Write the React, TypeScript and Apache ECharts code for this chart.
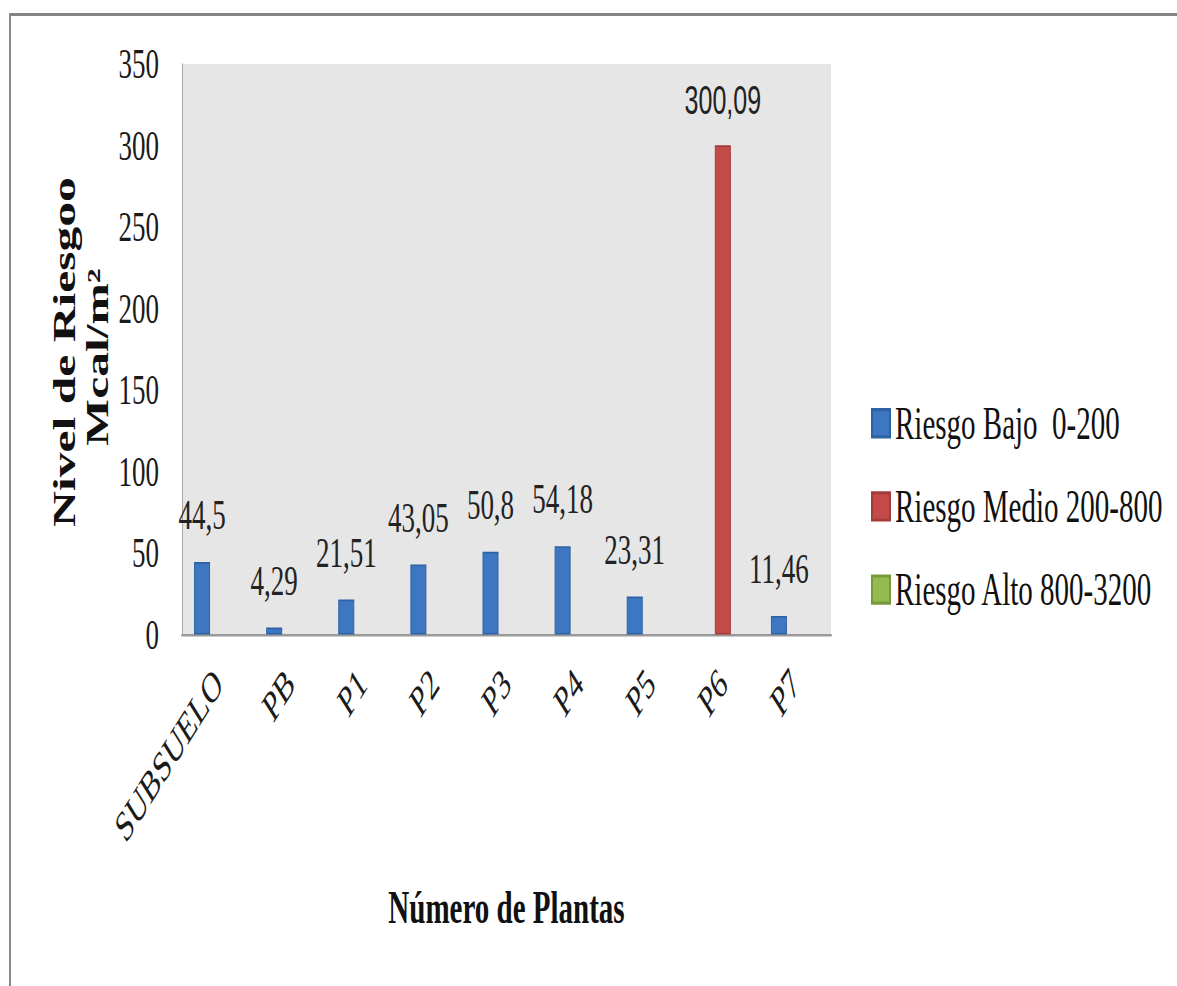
import React, { useEffect, useRef } from "react";
import * as echarts from "echarts";

// Floors of the building and fire-load risk per floor (Mcal/m²)
const categories = ["SUBSUELO", "PB", "P1", "P2", "P3", "P4", "P5", "P6", "P7"];
const riesgoBajo = [44.5, 4.29, 21.51, 43.05, 50.8, 54.18, 23.31, null, 11.46];
const riesgoMedio = [null, null, null, null, null, null, null, 300.09, null];
const riesgoAlto = [null, null, null, null, null, null, null, null, null];
const seriesNames = ["Riesgo Bajo  0-200", "Riesgo Medio 200-800", "Riesgo Alto 800-3200"];
const yTitleLines = ["Nivel de Riesgoo", "Mcal/m²"];
const yMin = 0;
const yMax = 350;
const yStep = 50;

// The chart is laid out in a short canvas and stretched vertically
const PAGE_W = 1177;
const PAGE_H = 986;
const STRETCH = 1.6;
const INNER_H = PAGE_H / STRETCH;

const SERIF = "'Liberation Serif', 'Times New Roman', serif";
const SANS = "'Liberation Sans', Arial, sans-serif";

const fmt = (v: any) => String(v).replace(".", ",");

export default function App() {
  const ref = useRef<HTMLDivElement>(null);

  useEffect(() => {
    if (!ref.current) return;
    const chart = echarts.init(ref.current, null, { renderer: "svg" });
    const gridTop = 64 / STRETCH;
    const gridBottom = INNER_H - 635 / STRETCH;

    const barLabel = (family: string, size: number) => ({
      show: true,
      position: "top",
      distance: 16,
      fontFamily: family,
      fontSize: size,
      color: "#222",
      formatter: (p: any) => fmt(p.value),
    });

    // Two-line vertical title of the value axis
    const yTitle = (text: string, x: number, yScreen: number) => ({
      type: "text",
      x,
      y: yScreen / STRETCH,
      rotation: Math.PI / 2,
      silent: true,
      style: {
        text,
        fontFamily: SERIF,
        fontSize: 31,
        fontWeight: "bold",
        fill: "#111",
        align: "center",
        verticalAlign: "middle",
      },
    });

    chart.setOption({
      animation: false,
      backgroundColor: "transparent",
      grid: {
        left: 182,
        right: PAGE_W - 831,
        top: gridTop,
        bottom: gridBottom,
        show: true,
        backgroundColor: "#e6e6e6",
        borderWidth: 0,
      },
      graphic: [
        yTitle(yTitleLines[0], 65, 352),
        yTitle(yTitleLines[1], 98, 357),
      ],
      legend: {
        orient: "vertical",
        left: 871,
        top: 250,
        padding: 0,
        itemWidth: 18,
        itemHeight: 17,
        itemGap: 23,
        icon: "rect",
        selectedMode: false,
        textStyle: {
          fontFamily: SERIF,
          fontSize: 29,
          color: "#111",
        },
        data: seriesNames,
      },
      xAxis: {
        type: "category",
        data: categories,
        name: "Número de Plantas",
        nameLocation: "middle",
        nameGap: 156,
        nameTextStyle: {
          fontFamily: SERIF,
          fontSize: 29,
          fontWeight: "bold",
          color: "#111",
        },
        axisLine: { show: true, lineStyle: { color: "#9a9a9a", width: 1.6 } },
        axisTick: { show: false },
        axisLabel: {
          rotate: 45,
          margin: 26,
          fontFamily: SERIF,
          fontSize: 27,
          color: "#1a1a1a",
          interval: 0,
        },
        splitLine: { show: false },
      },
      yAxis: {
        type: "value",
        min: yMin,
        max: yMax,
        interval: yStep,
        axisLine: { show: true, lineStyle: { color: "#a6a6a6", width: 1 } },
        axisTick: { show: false },
        axisLabel: {
          margin: 23,
          fontFamily: SERIF,
          fontSize: 27,
          color: "#1a1a1a",
        },
        splitLine: { show: false },
      },
      series: [
        {
          name: seriesNames[0],
          type: "bar",
          data: riesgoBajo,
          barWidth: 16,
          barGap: "0%",
          itemStyle: { color: "#3d77c2", borderColor: "#2f62a3", borderWidth: 1 },
          label: barLabel(SERIF, 27),
        },
        {
          name: seriesNames[1],
          type: "bar",
          data: riesgoMedio,
          barWidth: 16,
          barGap: "0%",
          itemStyle: { color: "#c44a4a", borderColor: "#a33d3b", borderWidth: 1 },
          label: barLabel(SANS, 25),
        },
        {
          name: seriesNames[2],
          type: "bar",
          data: riesgoAlto,
          barWidth: 16,
          barGap: "0%",
          itemStyle: { color: "#93bb4f", borderColor: "#769a3c", borderWidth: 1 },
          label: barLabel(SERIF, 27),
        },
      ],
    });

    return () => chart.dispose();
  }, []);

  return (
    <div
      style={{
        position: "absolute",
        left: 0,
        top: 0,
        width: PAGE_W,
        height: PAGE_H,
        overflow: "hidden",
        background: "#fff",
      }}
    >
      <div
        style={{
          position: "absolute",
          left: 9,
          top: 13,
          width: PAGE_W + 20,
          height: PAGE_H + 20,
          borderTop: "3px solid #848484",
          borderLeft: "2px solid #8c8c8c",
        }}
      />
      <div
        ref={ref}
        style={{
          position: "absolute",
          left: 0,
          top: 0,
          width: PAGE_W,
          height: INNER_H,
          transform: `scaleY(${STRETCH})`,
          transformOrigin: "0 0",
        }}
      />
    </div>
  );
}
